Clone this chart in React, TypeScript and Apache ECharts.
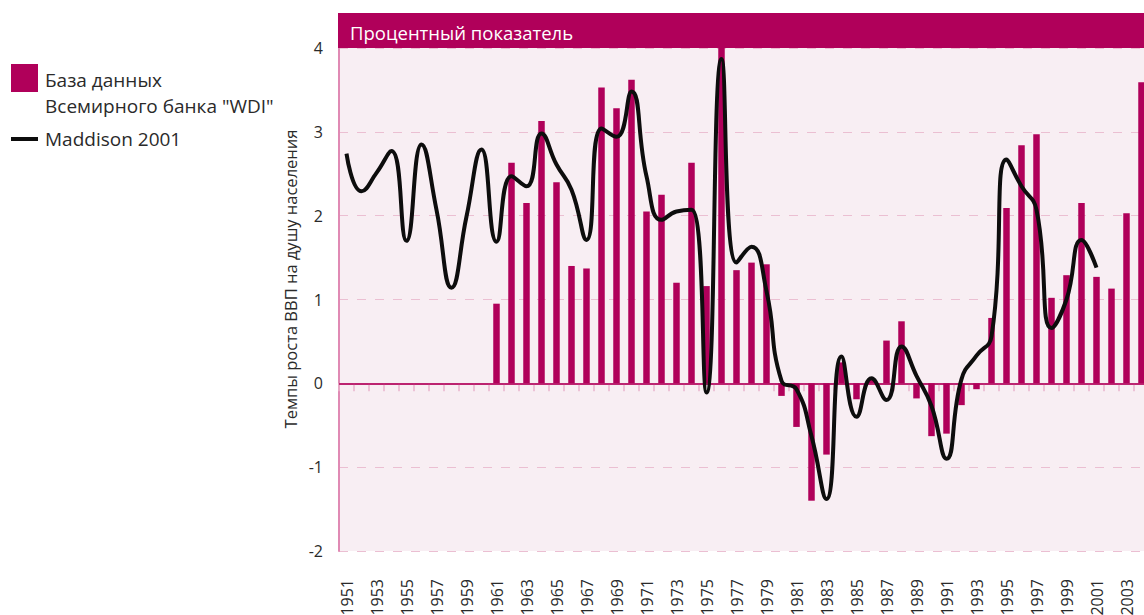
import React, { useEffect, useRef } from "react";
import * as echarts from "echarts";

const years: string[] = [];
for (let y = 1951; y <= 2004; y++) years.push(String(y));

// WDI bars (1951..2004); null where no data
const wdiValues: (number | null)[] = [
  null, null, null, null, null, null, null, null, null, null, // 1951-1960
  0.95, 2.63, 2.15, 3.13, 2.40, 1.40, 1.37, 3.53, 3.28, 3.62, // 1961-1970
  2.05, 2.25, 1.20, 2.63, 1.16, 4.0, 1.35, 1.44, 1.42, -0.15, // 1971-1980
  -0.52, -1.40, -0.85, 0.25, -0.19, 0.05, 0.51, 0.74, -0.18, -0.63, // 1981-1990
  -0.60, -0.26, -0.07, 0.78, 2.09, 2.84, 2.97, 1.02, 1.29, 2.15, // 1991-2000
  1.27, 1.13, 2.03, 3.59, // 2001-2004
];

// Maddison 2001 line (1951..2001)
const maddisonValues: (number | null)[] = [
  2.74, 2.29, 2.51, 2.77, 1.70, 2.85, 2.07, 1.14, 1.99, 2.79, // 1951-1960
  1.69, 2.47, 2.35, 2.98, 2.61, 2.31, 1.71, 3.04, 2.94, 3.48, // 1961-1970
  2.47, 1.95, 2.05, 2.07, -0.11, 3.87, 1.44, 1.63, 1.10, 0.03, // 1971-1980
  -0.07, -0.63, -1.38, 0.32, -0.40, 0.06, -0.20, 0.44, 0.09, -0.27, // 1981-1990
  -0.90, 0.05, 0.33, 0.56, 2.67, 2.35, 2.07, 0.66, 1.00, 1.71, // 1991-2000
  1.38, null, null, null, // 2001-2004
];

const yTicks = [-2, -1, 0, 1, 2, 3, 4];

const MAGENTA = "#b0005a";
const FONT = "'Open Sans', 'DejaVu Sans', sans-serif";
const TEXT = "#2a2a2a";

export default function App() {
  const ref = useRef<HTMLDivElement>(null);
  useEffect(() => {
    if (!ref.current) return;
    const chart = echarts.init(ref.current, undefined, { renderer: "svg" });
    chart.setOption({
      animation: false,
      backgroundColor: "#ffffff",
      textStyle: { fontFamily: FONT },
      grid: {
        left: 339,
        top: 48,
        right: -5,
        bottom: 64,
        containLabel: false,
        outerBoundsMode: "none",
        show: true,
        backgroundColor: "#f8eef3",
        borderWidth: 0,
      },
      xAxis: {
        type: "category",
        data: years,
        boundaryGap: true,
        axisLine: { show: true, lineStyle: { color: "#e08ab4", width: 2 } },
        axisTick: {
          show: true,
          interval: 0,
          length: 8,
          lineStyle: { color: "#eab3cc", width: 1.5 },
        },
        axisLabel: {
          interval: 1,
          rotate: 90,
          margin: 28,
          fontSize: 16,
          color: TEXT,
          fontFamily: FONT,
        },
        splitLine: { show: false },
      },
      yAxis: {
        type: "value",
        min: -2,
        max: 4,
        interval: 1,
        axisLine: { show: true, lineStyle: { color: "#e08ab4", width: 2 } },
        axisTick: { show: false },
        axisLabel: {
          fontSize: 16,
          color: TEXT,
          margin: 16,
          fontFamily: FONT,
          formatter: (v: number) => (yTicks.includes(v) ? String(v) : ""),
        },
        splitLine: {
          show: true,
          lineStyle: { color: "#ebbfd2", type: [9, 9], width: 1 },
        },
      },
      series: [
        {
          name: 'База данных Всемирного банка "WDI"',
          type: "bar",
          data: wdiValues,
          barWidth: 6.5,
          itemStyle: { color: MAGENTA },
          z: 2,
          markLine: {
            silent: true,
            symbol: "none",
            label: { show: false },
            lineStyle: { color: MAGENTA, type: "solid", width: 1.5 },
            data: [{ yAxis: 0 }],
            z: 3,
          },
        },
        {
          name: "Maddison 2001",
          type: "line",
          data: maddisonValues,
          smooth: 0.5,
          symbol: "none",
          connectNulls: false,
          lineStyle: { color: "#0d0d0d", width: 4 },
          z: 5,
        },
      ],
      graphic: [
        {
          type: "rect",
          shape: { x: 338, y: 13, width: 806, height: 35 },
          style: { fill: MAGENTA },
          z: 10,
        },
        {
          type: "text",
          x: 350,
          y: 32,
          style: {
            text: "Процентный показатель",
            fill: "#ffffff",
            fontSize: 18.5,
            fontFamily: FONT,
            verticalAlign: "middle",
          },
          z: 11,
        },
        {
          type: "text",
          x: 290,
          y: 279,
          rotation: Math.PI / 2,
          style: {
            text: "Темпы роста ВВП на душу населения",
            fill: TEXT,
            fontSize: 16.5,
            fontFamily: FONT,
            align: "center",
            verticalAlign: "middle",
          },
        },
        {
          type: "rect",
          shape: { x: 11, y: 64, width: 27, height: 28 },
          style: { fill: MAGENTA },
        },
        {
          type: "text",
          x: 45,
          y: 80,
          style: {
            text: "База данных",
            fill: TEXT,
            fontSize: 19,
            fontFamily: FONT,
            verticalAlign: "middle",
          },
        },
        {
          type: "text",
          x: 45,
          y: 106,
          style: {
            text: 'Всемирного банка "WDI"',
            fill: TEXT,
            fontSize: 19,
            fontFamily: FONT,
            verticalAlign: "middle",
          },
        },
        {
          type: "line",
          shape: { x1: 11, y1: 139, x2: 38, y2: 139 },
          style: { stroke: "#0d0d0d", lineWidth: 4 },
        },
        {
          type: "text",
          x: 45,
          y: 139,
          style: {
            text: "Maddison 2001",
            fill: TEXT,
            fontSize: 19,
            fontFamily: FONT,
            verticalAlign: "middle",
          },
        },
      ],
    });
    return () => chart.dispose();
  }, []);
  return (
    <div
      ref={ref}
      style={{ position: "fixed", left: 0, top: 0, width: 1144, height: 615 }}
    />
  );
}
